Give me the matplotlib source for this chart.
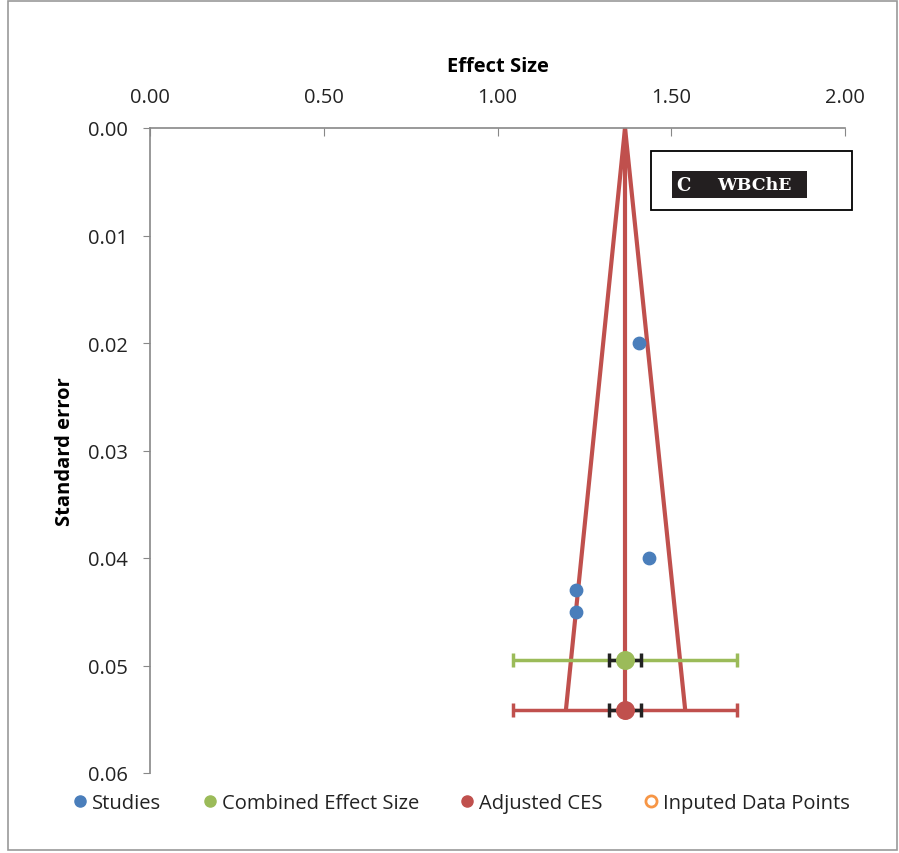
import matplotlib.pyplot as plt
from matplotlib.lines import Line2D
from matplotlib.patches import Rectangle
import numpy as np

# data
study_es = [1.407, 1.436, 1.226, 1.226]
study_se = [0.020, 0.040, 0.043, 0.045]

ces_es, ces_se = 1.367, 0.0495
adj_es, adj_se = 1.367, 0.0541
ci_low, ci_high = 1.045, 1.689        # outer whiskers
inner_low, inner_high = 1.321, 1.413  # black inner whiskers

funnel_x = [1.197, 1.367, 1.540]
funnel_y = [0.0541, 0.0, 0.0541]

xticks = [0.0, 0.5, 1.0, 1.5, 2.0]
yticks = [0.0, 0.01, 0.02, 0.03, 0.04, 0.05, 0.06]

blue = '#4A7EBB'
green = '#9BBB59'
red = '#C0504D'
orange = '#F79646'

plt.rcParams['font.family'] = ['Open Sans', 'DejaVu Sans']
fs = 14.5

fig = plt.figure(figsize=(8.99, 8.54), dpi=100)
ax = fig.add_axes([150 / 899, 1 - 774 / 854, 695 / 899, 645 / 854])

# funnel + vertical line
ax.plot(funnel_x, funnel_y, color=red, lw=3, zorder=2)
ax.plot([adj_es, adj_es], [0, adj_se], color=red, lw=3, zorder=2)

# outer error bars
ax.errorbar([ces_es], [ces_se], xerr=[[ces_es - ci_low], [ci_high - ces_es]],
            fmt='none', ecolor=green, elinewidth=2.5, capsize=5, capthick=2.5, zorder=3)
ax.errorbar([adj_es], [adj_se], xerr=[[adj_es - ci_low], [ci_high - adj_es]],
            fmt='none', ecolor=red, elinewidth=2.5, capsize=5, capthick=2.5, zorder=3)
# inner black bars
for y in [ces_se, adj_se]:
    ax.errorbar([ces_es], [y], xerr=[[ces_es - inner_low], [inner_high - ces_es]],
                fmt='none', ecolor='#222222', elinewidth=2.5, capsize=5, capthick=2.5, zorder=4)

ax.scatter(study_es, study_se, s=80, color=blue, zorder=5)
ax.scatter([ces_es], [ces_se], s=160, color=green, zorder=5)
ax.scatter([adj_es], [adj_se], s=160, color=red, zorder=5)

ax.set_xlim(0, 2)
ax.set_ylim(0.06, 0)
ax.set_xticks(xticks)
ax.set_xticklabels(['%.2f' % v for v in xticks])
ax.set_yticks(yticks)
ax.set_yticklabels(['%.2f' % v for v in yticks])
ax.xaxis.tick_top()
ax.xaxis.set_label_position('top')
ax.tick_params(axis='x', direction='in', length=6, color='#888888', labelsize=fs,
               labelcolor='#222222', pad=15)
ax.tick_params(axis='y', direction='out', length=5, color='#888888', labelsize=fs,
               labelcolor='#222222', pad=11)
ax.set_xlabel('Effect Size', fontweight='bold', fontsize=fs, va='center')
ax.set_ylabel('Standard error', fontweight='bold', fontsize=fs, va='center')
ax.xaxis.set_label_coords(0.5, (774 - 67) / 645)
ax.yaxis.set_label_coords((65 - 150) / 695, 0.5)
for side in ['right', 'bottom']:
    ax.spines[side].set_visible(False)
for side in ['left', 'top']:
    ax.spines[side].set_color('#888888')
    ax.spines[side].set_linewidth(1.2)

# label box
ax.add_patch(Rectangle((651 / 899, 1 - 211 / 854), 201 / 899, 59 / 854,
                       transform=fig.transFigure, fill=False, edgecolor='black', lw=1.3,
                       zorder=6, clip_on=False))
ax.add_patch(Rectangle((672 / 899, 1 - 199 / 854), 135 / 899, 27 / 854,
                       transform=fig.transFigure, facecolor='#231f20', edgecolor='none',
                       zorder=7, clip_on=False))
fig.text(676 / 899, 1 - 186 / 854, 'C', color='white', fontweight='bold',
         family='DejaVu Serif', fontsize=13, va='center', zorder=8)
fig.text(717 / 899, 1 - 186 / 854, 'WBChE', color='white', fontweight='bold',
         family='DejaVu Serif', fontsize=12.5, va='center', zorder=8)

# legend
handles = [
    Line2D([], [], ls='none', marker='o', color=blue, markersize=8),
    Line2D([], [], ls='none', marker='o', color=green, markersize=8),
    Line2D([], [], ls='none', marker='o', color=red, markersize=8),
    Line2D([], [], ls='none', marker='o', markerfacecolor='white', markeredgecolor=orange,
           markeredgewidth=2, markersize=8),
]
labels = ['Studies', 'Combined Effect Size', 'Adjusted CES', 'Inputed Data Points']
fig.legend(handles, labels, loc='center', bbox_to_anchor=(461 / 899, 1 - 804 / 854),
           ncol=4, frameon=False, fontsize=fs, handletextpad=0.2, columnspacing=2.0,
           handlelength=0.8, labelcolor='#222222')

# outer figure border
fig.add_artist(Rectangle((8 / 899, 3 / 854), 889 / 899, 849 / 854, transform=fig.transFigure,
                         fill=False, edgecolor='#999999', lw=1.2))

fig.savefig('out.png', dpi=100)
